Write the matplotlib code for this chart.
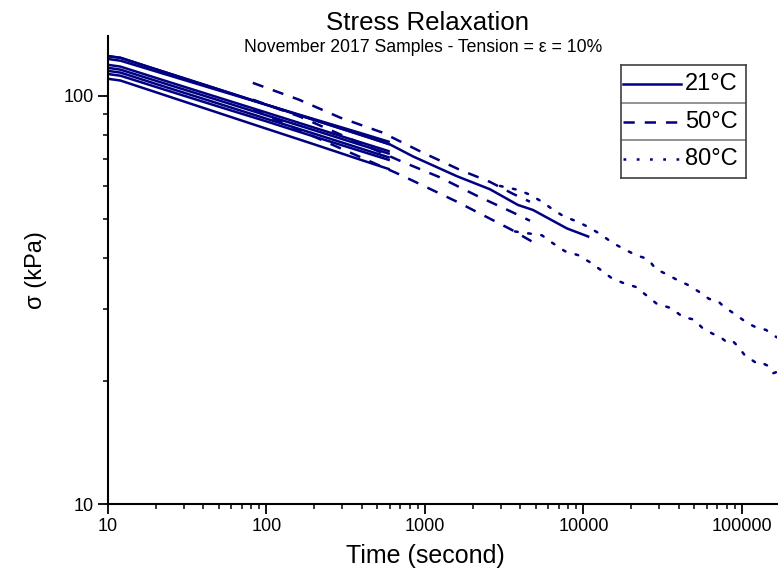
import matplotlib
matplotlib.use("Agg")
import matplotlib.pyplot as plt
from matplotlib.ticker import LogLocator, NullFormatter, FixedLocator, FixedFormatter

plt.rcParams['font.family'] = ['Liberation Sans', 'DejaVu Sans']

navy = '#000080'

"""
    Data read off the picture (time in s, stress in kPa)
"""
# 21 C runs
t_short = [10, 12, 20, 50, 100, 200, 400, 600]
s21_a = [125, 123.8, 116.1, 103.6, 95.0, 87.2, 80.0, 76.0]
s21_b = [123, 121.8, 114.7, 103.0, 95.0, 87.6, 80.8, 77.0]
s21_c = [119, 117.8, 110.6, 98.9, 90.9, 83.5, 76.7, 73.0]
s21_d = [117, 115.8, 108.8, 97.4, 89.5, 82.3, 75.6, 72.0]
s21_e = [115, 113.9, 106.9, 95.6, 87.8, 80.7, 74.1, 70.5]
s21_f = [113, 111.9, 105.1, 94.0, 86.5, 79.4, 73.0, 69.5]
s21_g = [110, 108.9, 102.0, 90.7, 83.0, 76.0, 69.5, 66.0]
t21_long = [840, 1590, 2570, 3860, 4800, 7870, 10700]
s21_long = [71.0, 63.5, 59.0, 54.0, 52.5, 47.3, 45.2]

# 50 C runs
t50_a = [82, 160, 291, 535, 957, 1664, 2571, 3590, 4595]
s50_a = [107.5, 97.8, 88.4, 81.3, 72.7, 65.8, 61.5, 57.5, 55.0]
t50_b = [82, 162, 700, 1230, 2120, 3500, 4600]
s50_b = [97.8, 88.9, 69.2, 63.2, 56.9, 52.0, 49.4]
t50_c = [82, 218, 700, 1590, 3500, 4700]
s50_c = [92.5, 78.2, 64.0, 55.0, 47.0, 44.0]

# 80 C runs
t80_a = [2972, 3863, 4598, 5470, 6422, 7534, 9100, 10830, 12890, 15130,
         18010, 21430, 25520, 28670, 34130, 38910, 45620, 53550, 61930,
         70580, 76970, 87700, 95750, 107500, 124300, 141700, 154600, 166300]
s80_a = [60.1, 58.8, 57.2, 55.0, 52.6, 50.6, 49.2, 47.6, 45.7, 43.7,
         42.1, 40.7, 39.8, 37.6, 36.4, 35.4, 34.4, 33.1, 31.8,
         31.4, 30.4, 29.4, 28.7, 27.8, 27.0, 26.7, 26.0, 25.6]
t80_b = [3698, 5470, 6422, 7640, 9230, 10990, 12890, 15130, 17750, 21430,
         24790, 29090, 35650, 42440, 49780, 56750, 65610, 72620, 79250,
         86490, 94400, 104500, 112300, 126200, 135700, 145900, 156900, 168600]
s80_b = [46.5, 45.5, 43.5, 41.6, 40.7, 39.1, 37.4, 35.7, 34.8, 34.0,
         32.5, 30.9, 30.2, 28.7, 28.3, 26.9, 26.1, 25.7, 25.0,
         25.2, 24.3, 23.1, 22.7, 22.0, 22.1, 21.8, 20.9, 21.1]

legend_labels = ['21\u00b0C', '50\u00b0C', '80\u00b0C']

"""
    Plot
"""
lw = 1.8
dash = (0, (4.5, 4))
dot = (0, (1.1, 4.2))

fig = plt.figure(figsize=(7.79, 5.78), dpi=100)
ax = fig.add_axes([0.1386, 0.128, 0.8588, 0.8097])

for s in [s21_a, s21_b, s21_c, s21_d, s21_e, s21_f, s21_g]:
    ax.plot(t_short, s, color=navy, lw=lw, solid_capstyle='butt')
ax.plot(t_short + t21_long, s21_a + s21_long, color=navy, lw=lw)

for t, s in [(t50_a, s50_a), (t50_b, s50_b), (t50_c, s50_c)]:
    ax.plot(t, s, color=navy, lw=lw, linestyle=dash)

for t, s in [(t80_a, s80_a), (t80_b, s80_b)]:
    ax.plot(t, s, color=navy, lw=lw, linestyle=dot, dash_capstyle='round')

ax.set_xscale('log')
ax.set_yscale('log')
ax.set_xlim(10, 166300)
ax.set_ylim(10, 140)

ax.xaxis.set_major_locator(FixedLocator([10, 100, 1000, 10000, 100000]))
ax.xaxis.set_major_formatter(FixedFormatter(['10', '100', '1000', '10000', '100000']))
ax.xaxis.set_minor_locator(LogLocator(base=10, subs=range(2, 10), numticks=20))
ax.xaxis.set_minor_formatter(NullFormatter())
ax.yaxis.set_major_locator(FixedLocator([10, 100]))
ax.yaxis.set_major_formatter(FixedFormatter(['10', '100']))
ax.yaxis.set_minor_locator(LogLocator(base=10, subs=range(2, 10), numticks=20))
ax.yaxis.set_minor_formatter(NullFormatter())

for side in ['top', 'right']:
    ax.spines[side].set_visible(False)
for side in ['left', 'bottom']:
    ax.spines[side].set_linewidth(1.5)
ax.tick_params(which='major', direction='out', length=7, width=1.3,
               labelsize=13, pad=3)
ax.tick_params(which='minor', direction='out', length=3.5, width=1.1)

ax.set_xlabel('Time (second)', fontsize=18, labelpad=8)
ax.xaxis.set_label_coords(0.475, -0.085)
ax.set_ylabel('\u03c3 (kPa)', fontsize=17, labelpad=12)

fig.text(0.549, 1 - 23 / 578, 'Stress Relaxation', fontsize=18.6,
         ha='center', va='center')
fig.text(0.543, 1 - 47 / 578, 'November 2017 Samples - Tension = \u03b5 = 10%',
         fontsize=12.7, ha='center', va='center')

# boxed legend, one cell per temperature
lax = fig.add_axes([621 / 779, 1 - 178 / 578, 125 / 779, 113 / 578])
lax.set_xlim(0, 1)
lax.set_ylim(0, 3)
lax.set_xticks([])
lax.set_yticks([])
for sp in lax.spines.values():
    sp.set_color('#404040')
    sp.set_linewidth(1.2)
for y in [1, 2]:
    lax.axhline(y, color='#808080', lw=1.2)
styles = ['-', dash, dot]
for i, (lab, ls) in enumerate(zip(legend_labels, styles)):
    yc = 2.5 - i
    lax.plot([0.015, 0.48], [yc, yc], color=navy, lw=lw, linestyle=ls)
    lax.text(0.51, yc, lab, fontsize=17, va='center', ha='left')

fig.savefig('out.png', dpi=100)
